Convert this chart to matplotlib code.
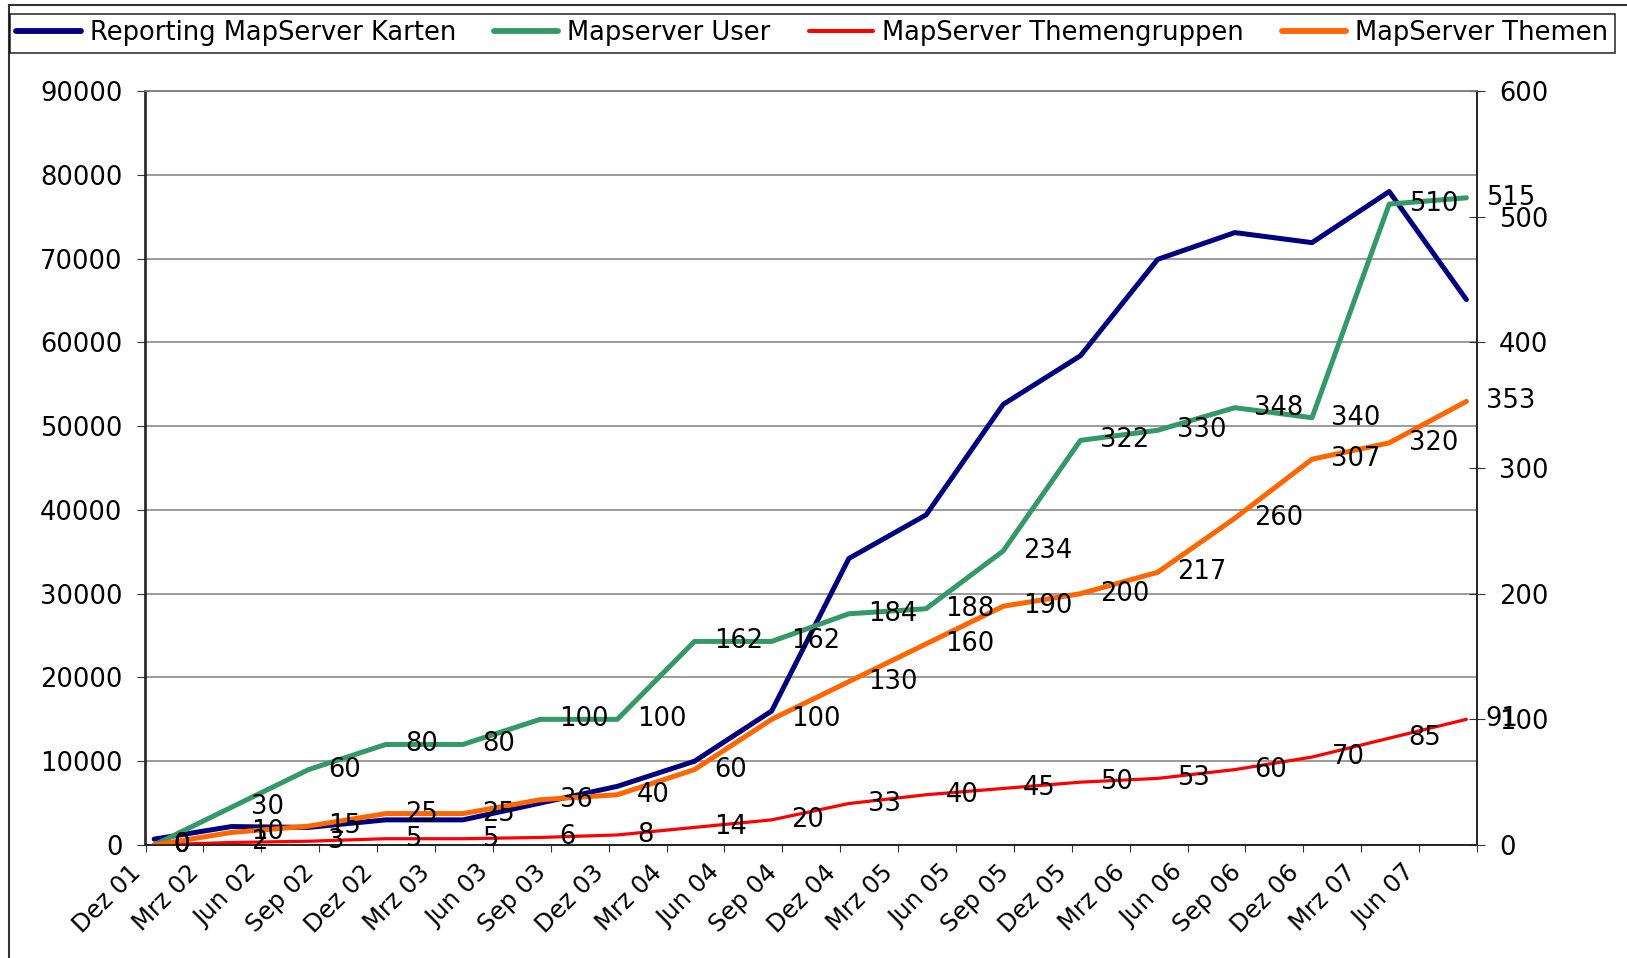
import matplotlib
matplotlib.use('Agg')
import matplotlib.pyplot as plt
from matplotlib.lines import Line2D

# months after Dez 01 (data points every 4 months)
months = [0.45, 4.45, 8.45, 12.45, 16.45, 20.45, 24.45, 28.45, 32.45,
          36.45, 40.45, 44.45, 48.45, 52.45, 56.45, 60.45, 64.45, 68.45]

karten = [700, 2200, 2100, 3000, 3000, 5000, 7000, 10000, 16000,
          34200, 39400, 52600, 58400, 69900, 73100, 71900, 78000, 65100]
user = [0, 30, 60, 80, 80, 100, 100, 162, 162,
        184, 188, 234, 322, 330, 348, 340, 510, 515]
gruppen = [0, 2, 3, 5, 5, 6, 8, 14, 20,
           33, 40, 45, 50, 53, 60, 70, 85, 100]
# label texts as printed in the chart (last point is labelled 91)
gruppen_labels = ['0', '2', '3', '5', '5', '6', '8', '14', '20',
                  '33', '40', '45', '50', '53', '60', '70', '85', '91']
themen = [0, 10, 15, 25, 25, 36, 40, 60, 100,
          130, 160, 190, 200, 217, 260, 307, 320, 353]

tick_labels = ['Dez 01', 'Mrz 02', 'Jun 02', 'Sep 02', 'Dez 02', 'Mrz 03', 'Jun 03',
               'Sep 03', 'Dez 03', 'Mrz 04', 'Jun 04', 'Sep 04', 'Dez 04', 'Mrz 05',
               'Jun 05', 'Sep 05', 'Dez 05', 'Mrz 06', 'Jun 06', 'Sep 06', 'Dez 06',
               'Mrz 07', 'Jun 07']

W, H = 1627, 958
fig = plt.figure(figsize=(W / 100, H / 100), dpi=100)
ax = fig.add_axes([145.5 / W, 1 - 845 / H, (1477 - 145.5) / W, (845 - 91) / H])
ax2 = ax.twinx()

style = dict(solid_joinstyle='round', solid_capstyle='round')
l1, = ax.plot(months, karten, color='#000080', lw=3.6, label='Reporting MapServer Karten', **style)
l2, = ax2.plot(months, user, color='#339966', lw=3.6, label='Mapserver User', **style)
l3, = ax2.plot(months, gruppen, color='#ff0000', lw=2.3, label='MapServer Themengruppen', **style)
l4, = ax2.plot(months, themen, color='#ff6600', lw=3.6, label='MapServer Themen', **style)

lab_font = 18.5
series = [(user, [str(v) for v in user]),
          (gruppen, gruppen_labels),
          (themen, [str(v) for v in themen])]
for vals, texts in series:
    for x, v, t in zip(months, vals, texts):
        ax2.annotate(t, (x, v), xytext=(14, 0), textcoords='offset points',
                     ha='left', va='center', fontsize=lab_font)

ax.set_xlim(0, 69)
ax.set_ylim(0, 90000)
ax2.set_ylim(0, 600)
ax.set_yticks(range(0, 90001, 10000))
ax2.set_yticks(range(0, 601, 100))
ax.set_xticks(range(0, 70, 3))
ax.set_xticklabels(tick_labels + [''], rotation=45, ha='right', fontsize=17.5)

ax.yaxis.grid(True, color='#808080', lw=1.1)
ax.set_axisbelow(True)

ax.tick_params(axis='y', direction='out', length=6.5, pad=10, labelsize=18.5, color='#333333')
ax.tick_params(axis='x', direction='out', length=5, pad=6, color='#333333')
ax2.tick_params(axis='y', direction='inout', length=11.5, pad=10, labelsize=18.5, color='#333333')

for a in (ax, ax2):
    a.spines['top'].set_color('#808080')
    a.spines['top'].set_linewidth(1.1)
    for s in ('left', 'right', 'bottom'):
        a.spines[s].set_color('#222222')
        a.spines[s].set_linewidth(1.2)

leg = fig.legend([l1, l2, l3, l4], [h.get_label() for h in (l1, l2, l3, l4)],
                 loc='upper left', bbox_to_anchor=(10 / W, 1 - 14 / H, 1605 / W, 0),
                 mode='expand', ncol=4, fontsize=18.5, frameon=True, fancybox=False,
                 edgecolor='black', borderpad=0.25, handlelength=2.5,
                 handletextpad=0.35, borderaxespad=0)
leg.get_frame().set_linewidth(1.2)
for h in leg.get_lines():
    h.set_linewidth(h.get_linewidth() + 0.6)

# outer chart border
fig.add_artist(Line2D([9 / W, 9 / W], [0, 1 - 5 / H], transform=fig.transFigure,
                      color='#333333', lw=1.5))
fig.add_artist(Line2D([9 / W, 1], [1 - 5 / H, 1 - 5 / H], transform=fig.transFigure,
                      color='#333333', lw=1.5))

fig.savefig('out.png', dpi=100)
